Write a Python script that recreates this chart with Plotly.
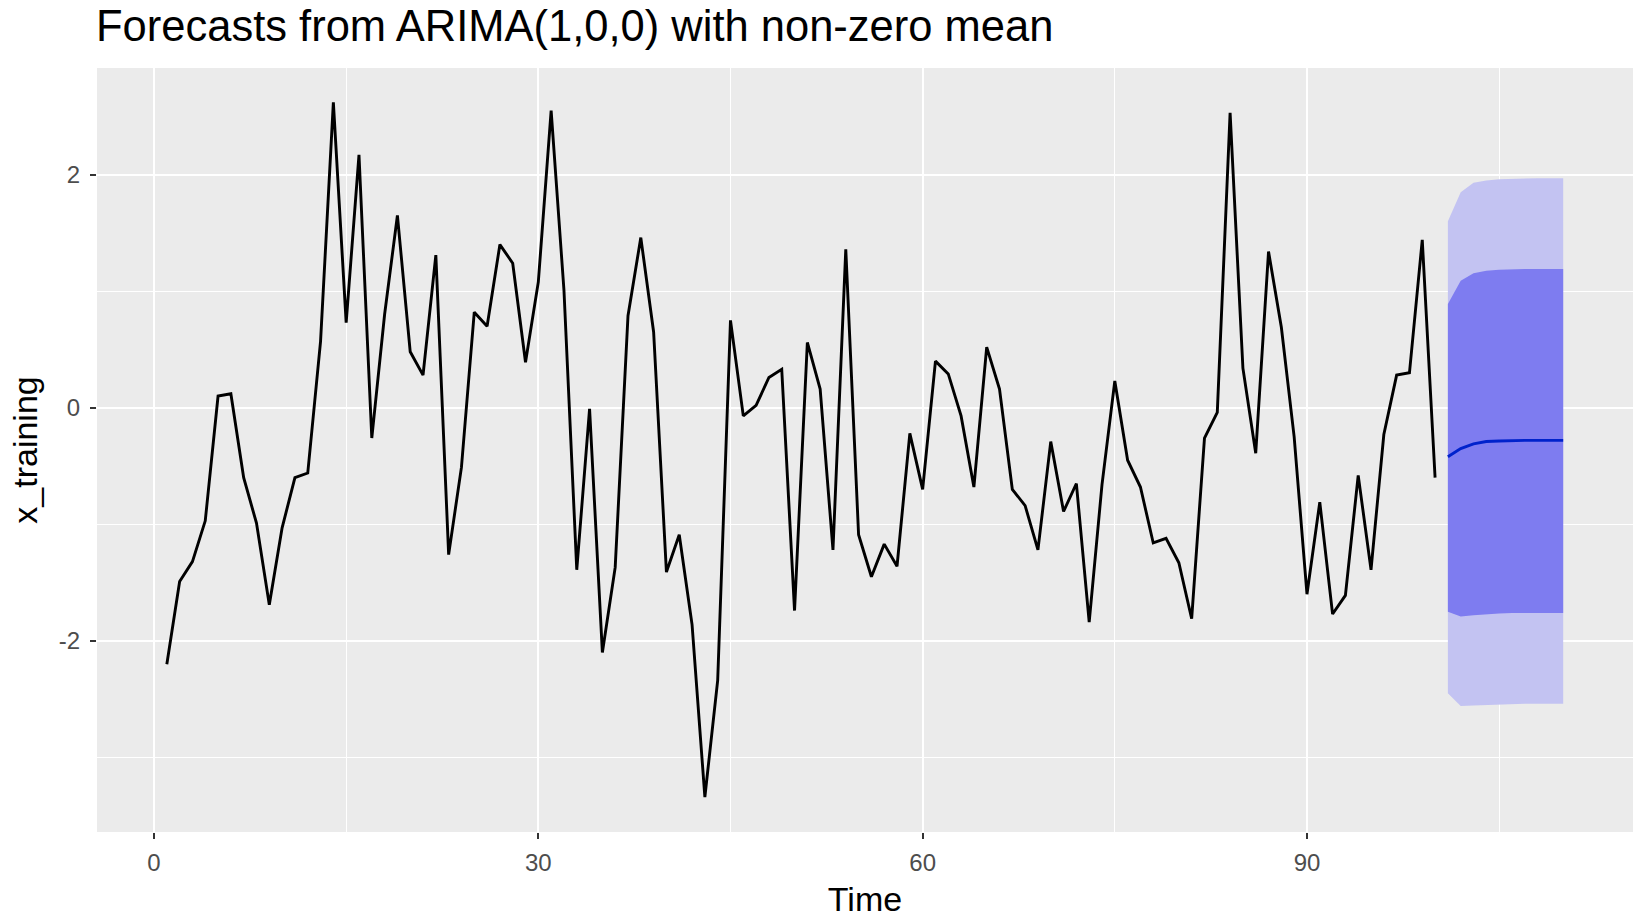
import plotly.graph_objects as go

# ---- data ----
time = list(range(1, 101))
x_training = [
    -2.20, -1.49, -1.32, -0.97, 0.10, 0.12, -0.60, -0.99, -1.69, -1.03,
    -0.60, -0.56, 0.57, 2.62, 0.73, 2.17, -0.26, 0.80, 1.65, 0.48,
    0.28, 1.31, -1.26, -0.51, 0.82, 0.70, 1.40, 1.24, 0.39, 1.08,
    2.55, 1.01, -1.39, -0.01, -2.10, -1.37, 0.79, 1.46, 0.65, -1.41,
    -1.09, -1.86, -3.34, -2.34, 0.75, -0.07, 0.02, 0.26, 0.33, -1.74,
    0.56, 0.16, -1.22, 1.36, -1.09, -1.45, -1.17, -1.36, -0.22, -0.70,
    0.40, 0.29, -0.07, -0.68, 0.52, 0.16, -0.70, -0.84, -1.22, -0.29,
    -0.89, -0.65, -1.84, -0.66, 0.23, -0.45, -0.68, -1.16, -1.12, -1.33,
    -1.81, -0.26, -0.04, 2.53, 0.34, -0.39, 1.34, 0.69, -0.25, -1.60,
    -0.81, -1.77, -1.61, -0.58, -1.39, -0.23, 0.28, 0.30, 1.44, -0.60,
]

fc_time = list(range(101, 111))
fc_mean = [-0.42, -0.35, -0.31, -0.29, -0.285, -0.28, -0.28, -0.28, -0.28, -0.28]
lo80 = [-1.75, -1.79, -1.78, -1.77, -1.765, -1.76, -1.76, -1.76, -1.76, -1.76]
hi80 = [0.89, 1.09, 1.155, 1.175, 1.185, 1.19, 1.19, 1.19, 1.19, 1.19]
lo95 = [-2.45, -2.56, -2.555, -2.55, -2.545, -2.54, -2.54, -2.54, -2.54, -2.54]
hi95 = [1.60, 1.85, 1.93, 1.95, 1.96, 1.965, 1.97, 1.97, 1.97, 1.97]

x_ticks = [0, 30, 60, 90]
x_minor = [15, 45, 75, 105]
y_ticks = [-2, 0, 2]
y_minor = [-3, -1, 1]

FONT = "Liberation Sans, Arial, Helvetica, sans-serif"

fig = go.Figure()

# 95% band
fig.add_trace(go.Scatter(x=fc_time, y=lo95, mode="lines", line=dict(width=0),
                         showlegend=False, hoverinfo="skip"))
fig.add_trace(go.Scatter(x=fc_time, y=hi95, mode="lines", line=dict(width=0),
                         fill="tonexty", fillcolor="#C3C3F2",
                         showlegend=False, hoverinfo="skip"))
# 80% band
fig.add_trace(go.Scatter(x=fc_time, y=lo80, mode="lines", line=dict(width=0),
                         showlegend=False, hoverinfo="skip"))
fig.add_trace(go.Scatter(x=fc_time, y=hi80, mode="lines", line=dict(width=0),
                         fill="tonexty", fillcolor="#7E7CF0",
                         showlegend=False, hoverinfo="skip"))
# forecast mean
fig.add_trace(go.Scatter(x=fc_time, y=fc_mean, mode="lines",
                         line=dict(color="#0022CC", width=2.9),
                         showlegend=False))
# training series
fig.add_trace(go.Scatter(x=time, y=x_training, mode="lines",
                         line=dict(color="black", width=2.9),
                         showlegend=False))

axis_common = dict(
    showgrid=True, gridcolor="white", gridwidth=2.3,
    zeroline=False, showline=False,
    ticks="outside", ticklen=6, tickwidth=1.6, tickcolor="#333333",
    tickfont=dict(family=FONT, size=24, color="#4D4D4D"),
)

fig.update_layout(
    width=1641, height=920,
    paper_bgcolor="white", plot_bgcolor="#EBEBEB",
    margin=dict(l=97, r=8, t=68, b=84),
    font=dict(family=FONT),
    title=dict(text="Forecasts from ARIMA(1,0,0) with non-zero mean",
               font=dict(family=FONT, size=43.5, color="black"),
               xref="container", yref="container",
               x=96 / 1641, xanchor="left",
               y=1 - 26 / 920, yanchor="middle"),
    xaxis=dict(range=[-4.45, 115.45], tickvals=x_ticks,
               ticktext=[str(v) for v in x_ticks],
               ticklabelstandoff=3,
               minor=dict(tickvals=x_minor, showgrid=True, gridcolor="white",
                          gridwidth=1.2, ticklen=0),
               title=dict(text="Time", font=dict(family=FONT, size=34, color="black"),
                          standoff=12),
               **axis_common),
    yaxis=dict(range=[-3.64, 2.915], tickvals=y_ticks,
               ticktext=[str(v) for v in y_ticks],
               ticklabelstandoff=5,
               minor=dict(tickvals=y_minor, showgrid=True, gridcolor="white",
                          gridwidth=1.2, ticklen=0),
               title=dict(text="x_training", font=dict(family=FONT, size=34, color="black"),
                          standoff=10),
               **axis_common),
)

fig.write_html("out.html", config={"displayModeBar": False},
               post_script="document.body.style.margin='0';")
